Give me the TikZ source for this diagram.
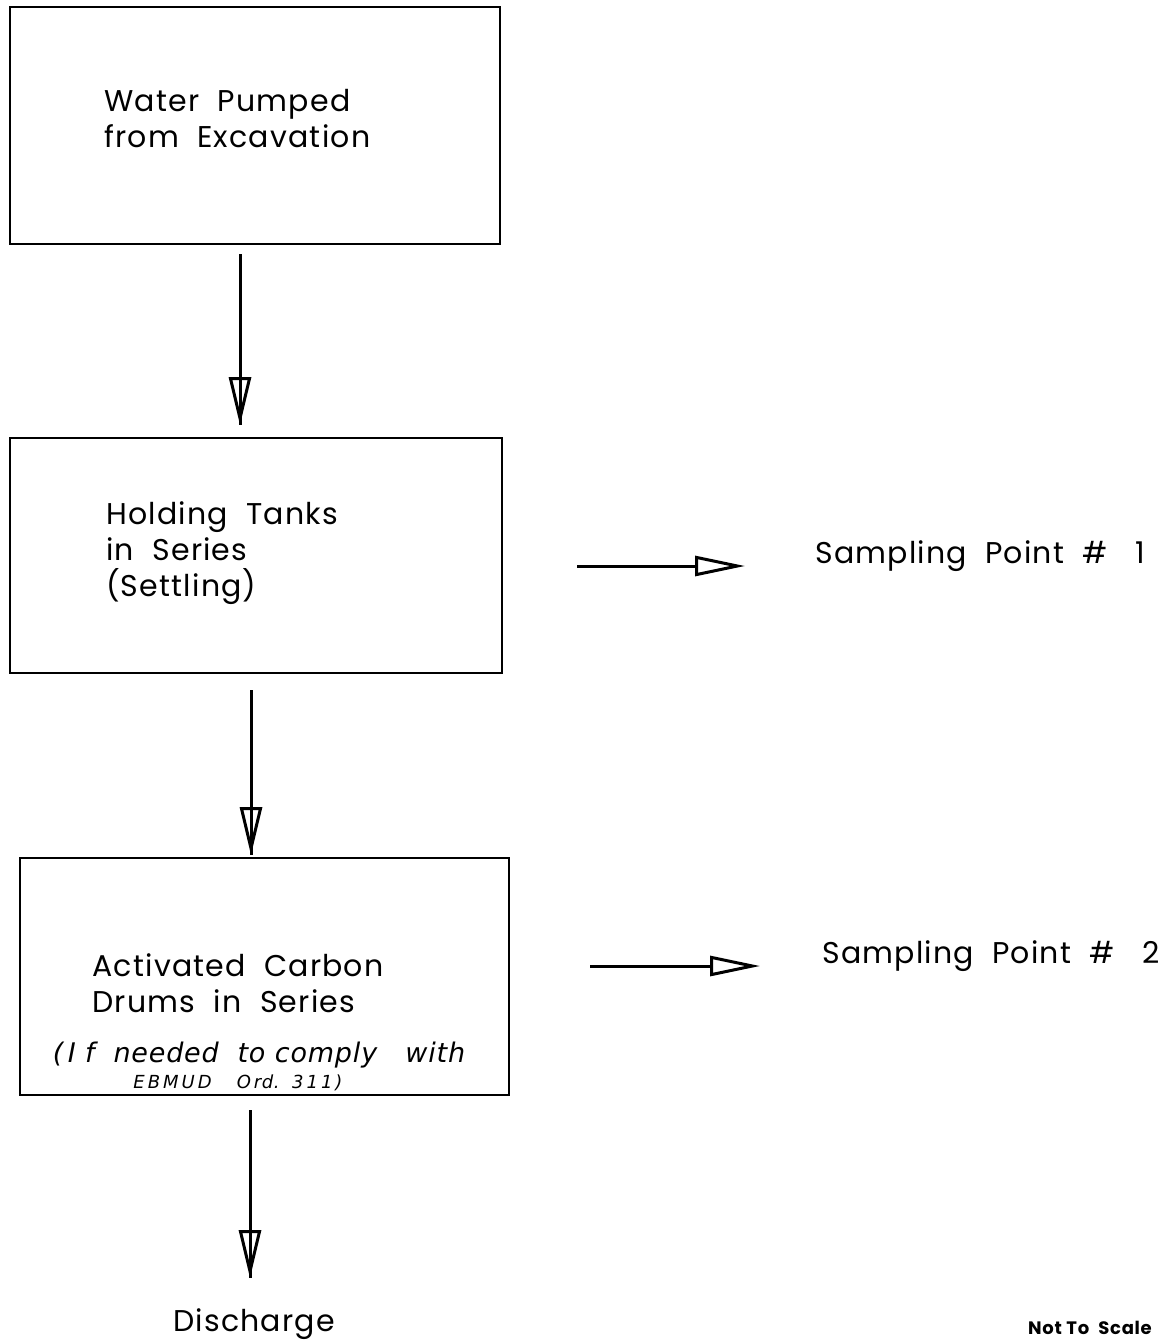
\documentclass[tikz,border=0pt]{standalone}
\usepackage{fontspec}
\setmainfont{Poppins}[LetterSpace=4]
\newfontfamily\handfont{DejaVu Sans}[LetterSpace=3]
\usetikzlibrary{arrows.meta}
\tikzset{
  flowbox/.style={draw, line width=2.4pt, minimum width=#1, inner sep=0pt},
  boxtext/.style={align=left, font=\fontsize{30}{36}\selectfont, inner sep=0pt},
  flowline/.style={line width=3pt},
  openhead/.style={line width=3pt, -{Triangle[open, length=48pt, width=22pt, line width=3pt]}},
  opensidehead/.style={line width=3pt, -{Triangle[open, length=50pt, width=20pt, line width=3pt]}},
}
\begin{document}
\begin{tikzpicture}[x=1pt, y=-1pt]
\useasboundingbox (0,0) rectangle (1173,1341);
% boxes
\node[flowbox=490pt, minimum height=237pt] (b1) at (255,125.5) {};
\node[flowbox=492pt, minimum height=235pt] (b2) at (256,555.5) {};
\node[flowbox=489pt, minimum height=237pt] (b3) at (264.5,976.5) {};
% box texts
\node[boxtext, anchor=west] (t1) at (104,119) {Water\ \ Pumped\\from\ \ Excavation};
\node[boxtext, anchor=west] (t2) at (106,553) {Holding\ \ Tanks\\in\ \ Series\\(Settling)};
\node[boxtext, anchor=center] (t3) at (238,983) {Activated\ \ Carbon\\Drums\ \ in\ \ Series};
\node[inner sep=0pt, font=\handfont\itshape\fontsize{27}{27}\selectfont] (h1) at (259,1055) {(\,I f\ \ needed\ \ to comply\ \ \ with};
\node[inner sep=0pt, font=\handfont\itshape\fontsize{18}{18}\selectfont] (h2) at (238,1083) {E\,B\,M\,U\,D\ \ \ \ O\,rd.\ \ 3\,1\,1\,)};
% side labels
\node[boxtext, anchor=west] (s1) at (815,556) {Sampling\ \ Point\ \ \#\ \ \ 1};
\node[boxtext, anchor=west] (s2) at (822,956) {Sampling\ \ Point\ \ \#\ \ \ 2};
\node[boxtext, anchor=center] (d) at (254,1324) {Discharge};
\node[inner sep=0pt, font=\bfseries\fontsize{18}{18}\selectfont] (nts) at (1090,1328) {Not\ To\ \ Scale};
% arrow coordinates
\coordinate (a1s) at (240,254);
\coordinate (a1e) at (240,425);
\coordinate (a2s) at (251,690);
\coordinate (a2e) at (251,855);
\coordinate (a3s) at (250,1110);
\coordinate (a3e) at (250,1278);
\coordinate (h1s) at (577,566);
\coordinate (h1e) at (745,566);
\coordinate (h2s) at (590,966);
\coordinate (h2e) at (760,966);
% vertical arrows
\foreach \s/\e in {a1s/a1e, a2s/a2e, a3s/a3e}{
  \draw[openhead] (\s) -- (\e);
  \draw[flowline] (\s) -- (\e);
}
% horizontal arrows
\draw[opensidehead] (h1s) -- (h1e);
\draw[opensidehead] (h2s) -- (h2e);
\end{tikzpicture}
\end{document}
